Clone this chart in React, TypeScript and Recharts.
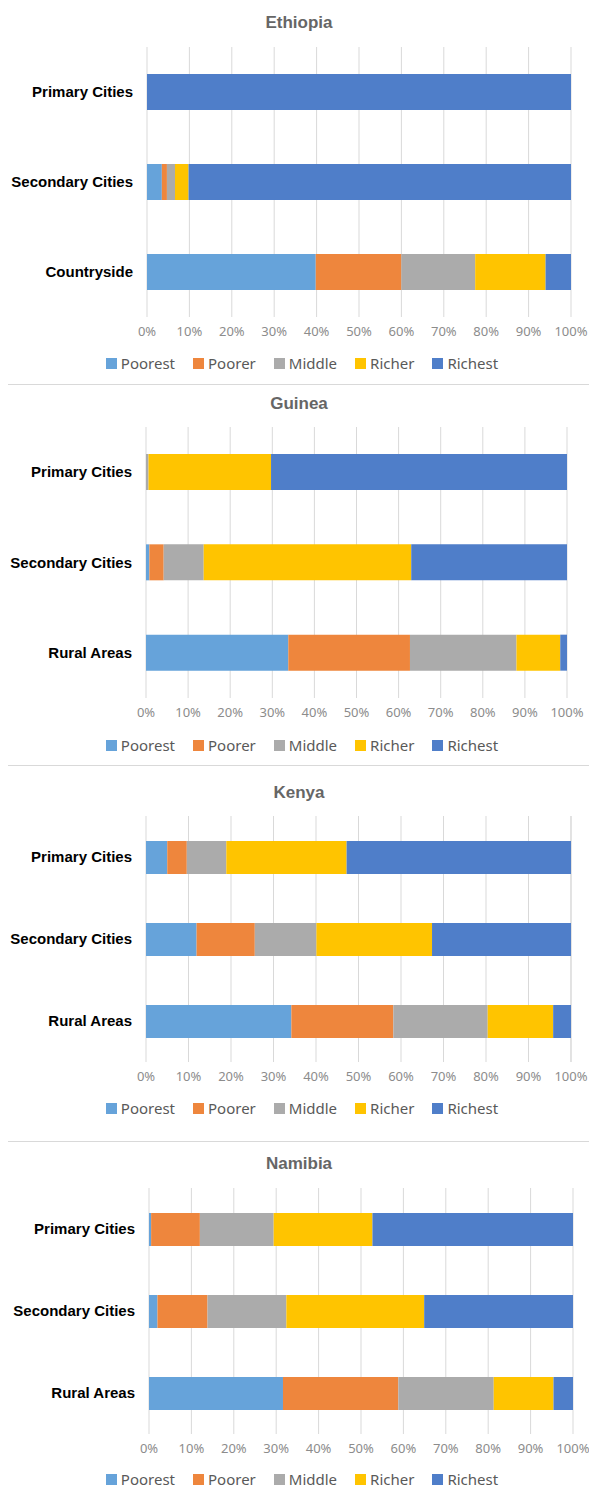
import { BarChart, Bar, XAxis, YAxis, CartesianGrid, Legend } from "recharts";

const SERIES = ["Poorest", "Poorer", "Middle", "Richer", "Richest"];
const SERIES_COLORS = ["#66A3DA", "#EE863D", "#ABABAB", "#FFC400", "#4F7EC9"];
const PERCENT_TICKS = [0, 10, 20, 30, 40, 50, 60, 70, 80, 90, 100];

const ETHIOPIA_CATEGORIES = ["Primary Cities", "Secondary Cities", "Countryside"];
const ETHIOPIA_VALUES = [
  [0, 0, 0, 0, 100],
  [3.5, 1.2, 1.9, 3.2, 90.2],
  [39.8, 20.2, 17.4, 16.6, 6.0],
];

const GUINEA_CATEGORIES = ["Primary Cities", "Secondary Cities", "Rural Areas"];
const GUINEA_VALUES = [
  [0, 0, 0.6, 29.1, 70.3],
  [0.8, 3.4, 9.5, 49.3, 37.0],
  [33.8, 28.9, 25.3, 10.4, 1.6],
];

const KENYA_CATEGORIES = ["Primary Cities", "Secondary Cities", "Rural Areas"];
const KENYA_VALUES = [
  [5.0, 4.6, 9.3, 28.3, 52.8],
  [11.9, 13.7, 14.5, 27.2, 32.7],
  [34.2, 24.0, 22.2, 15.4, 4.2],
];

const NAMIBIA_CATEGORIES = ["Primary Cities", "Secondary Cities", "Rural Areas"];
const NAMIBIA_VALUES = [
  [0.5, 11.5, 17.4, 23.3, 47.3],
  [2.0, 11.8, 18.6, 32.5, 35.1],
  [31.6, 27.2, 22.5, 14.1, 4.6],
];

// page-pixel layout of each panel
const PANELS = [
  { title: "Ethiopia", categories: ETHIOPIA_CATEGORIES, values: ETHIOPIA_VALUES, top: 0, height: 385, titleY: 23, plotTop: 47, plotBottom: 317, left: 147, right: 571, barSize: 36, legendY: 363 },
  { title: "Guinea", categories: GUINEA_CATEGORIES, values: GUINEA_VALUES, top: 385, height: 381, titleY: 404, plotTop: 427, plotBottom: 698, left: 146, right: 567, barSize: 36, legendY: 745 },
  { title: "Kenya", categories: KENYA_CATEGORIES, values: KENYA_VALUES, top: 766, height: 376, titleY: 793, plotTop: 816, plotBottom: 1062, left: 146, right: 571, barSize: 33, legendY: 1108 },
  { title: "Namibia", categories: NAMIBIA_CATEGORIES, values: NAMIBIA_VALUES, top: 1142, height: 346, titleY: 1164, plotTop: 1188, plotBottom: 1434, left: 149, right: 573, barSize: 33, legendY: 1479 },
];

const WIDTH = 589;
const X_AXIS_HEIGHT = 24;

function toRows(categories: string[], values: number[][]) {
  return categories.map((name, i) => {
    const row: Record<string, string | number> = { name };
    SERIES.forEach((s, j) => {
      row[s] = values[i][j];
    });
    return row;
  });
}

function LegendContent(props: { payload?: { value: string; color: string }[] }) {
  const payload = [...(props.payload ?? [])].sort((a, b) => SERIES.indexOf(a.value) - SERIES.indexOf(b.value));
  return (
    <div style={{ display: "flex", justifyContent: "center", gap: 18 }}>
      {payload.map((p) => (
        <div key={p.value} style={{ display: "flex", alignItems: "center" }}>
          <span style={{ width: 11, height: 11, background: p.color, marginRight: 4, display: "inline-block" }} />
          <span style={{ fontFamily: "'Noto Sans', sans-serif", fontSize: 15, color: "#595959", lineHeight: "16px" }}>{p.value}</span>
        </div>
      ))}
    </div>
  );
}

function Panel({ panel, last }: { panel: (typeof PANELS)[number]; last: boolean }) {
  const data = toRows(panel.categories, panel.values);
  const marginTop = panel.plotTop - panel.top;
  const marginBottom = panel.top + panel.height - panel.plotBottom - X_AXIS_HEIGHT;
  return (
    <div style={{ position: "absolute", left: 0, top: panel.top, width: WIDTH, height: panel.height }}>
      <div
        style={{
          position: "absolute",
          left: 0,
          width: 598,
          top: panel.titleY - panel.top - 11,
          height: 22,
          lineHeight: "22px",
          textAlign: "center",
          fontFamily: "Arial, 'Liberation Sans', sans-serif",
          fontWeight: 700,
          fontSize: 17,
          color: "#666666",
        }}
      >
        {panel.title}
      </div>
      <BarChart
        width={WIDTH}
        height={panel.height}
        data={data}
        layout="vertical"
        barSize={panel.barSize}
        margin={{ top: marginTop, bottom: marginBottom, left: 0, right: WIDTH - panel.right }}
      >
        <CartesianGrid horizontal={false} stroke="#D9D9D9" />
        <XAxis
          type="number"
          domain={[0, 100]}
          ticks={PERCENT_TICKS}
          tickFormatter={(v: number) => `${v}%`}
          axisLine={false}
          tickLine={false}
          height={X_AXIS_HEIGHT}
          tickMargin={4}
          interval={0}
          tick={{ fill: "#8C8C8C", fontSize: 13, fontFamily: "'Noto Sans', sans-serif" }}
        />
        <YAxis
          type="category"
          dataKey="name"
          width={panel.left}
          axisLine={false}
          tickLine={false}
          tickMargin={8}
          tick={{ fill: "#000000", fontSize: 15, fontWeight: 700, fontFamily: "Arial, 'Liberation Sans', sans-serif" }}
        />
        <Legend
          layout="horizontal"
          verticalAlign="middle"
          align="center"
          itemSorter={null}
          content={<LegendContent />}
          wrapperStyle={{ top: panel.legendY - panel.top - 8, left: 0, width: 604 }}
        />
        {SERIES.map((s, i) => (
          <Bar key={s} dataKey={s} stackId="a" fill={SERIES_COLORS[i]} isAnimationActive={false} />
        ))}
      </BarChart>
      {!last && (
        <div style={{ position: "absolute", left: 8, right: 0, bottom: 0, height: 1, background: "#D9D9D9" }} />
      )}
    </div>
  );
}

export default function App() {
  return (
    <div style={{ position: "absolute", left: 0, top: 0, width: WIDTH, height: 1488, background: "#ffffff" }}>
      {PANELS.map((p, i) => (
        <Panel key={p.title} panel={p} last={i === PANELS.length - 1} />
      ))}
    </div>
  );
}
